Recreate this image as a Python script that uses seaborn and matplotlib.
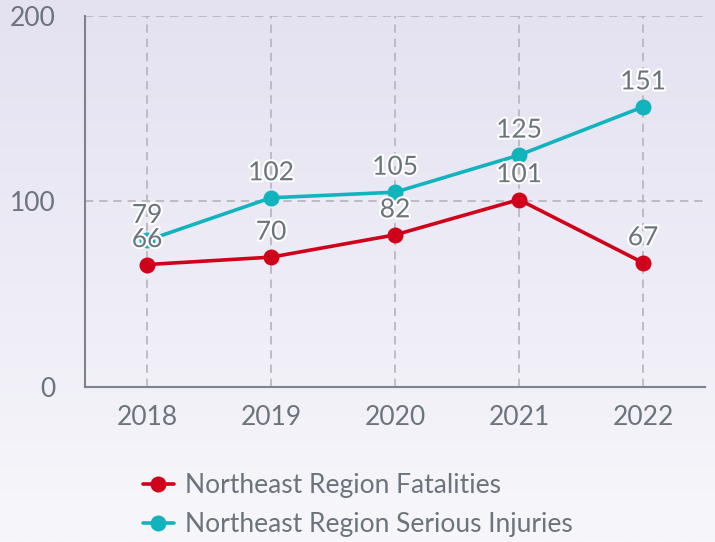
import numpy as np
import pandas as pd
import matplotlib
matplotlib.use("Agg")
import matplotlib.pyplot as plt
import matplotlib.patheffects as pe
import seaborn as sns

years = ["2018", "2019", "2020", "2021", "2022"]
fatalities = [66, 70, 82, 101, 67]
injuries = [79, 102, 105, 125, 151]
series_names = ["Northeast Region Fatalities", "Northeast Region Serious Injuries"]
colors = ["#d0021b", "#11b4bc"]
y_ticks = [0, 100, 200]

df = pd.DataFrame({
    "year": years * 2,
    "value": fatalities + injuries,
    "series": [series_names[0]] * len(years) + [series_names[1]] * len(years),
})

sns.set_style("white")
plt.rcParams["font.family"] = ["Lato", "DejaVu Sans"]

fig = plt.figure(figsize=(7.15, 5.42), dpi=100)
# gradient background
bg = fig.add_axes([0, 0, 1, 1], zorder=-10)
grad = np.linspace(0, 1, 256).reshape(-1, 1)
top = np.array([228, 225, 241]) / 255
bot = np.array([247, 247, 251]) / 255
img = top[None, None, :] * (1 - grad[:, :, None]) + bot[None, None, :] * grad[:, :, None]
bg.imshow(img, aspect="auto", extent=[0, 1, 0, 1])
bg.axis("off")

ax = fig.add_axes([0.1189, 0.286, 0.8671, 0.6845])
ax.set_facecolor("none")

sns.lineplot(data=df, x="year", y="value", hue="series", palette=colors,
             marker="o", markersize=11.5, markeredgewidth=0, linewidth=2.6,
             ax=ax, legend=True, sort=False)

ax.set_xlim(-0.5, 4.5)
ax.set_ylim(0, 200)
ax.set_yticks(y_ticks)
ax.set_xlabel("")
ax.set_ylabel("")

FS = 19
grid_col = "#b4b4bc"
ax.grid(True, color=grid_col, linestyle=(0, (5, 3.5)), linewidth=1.2)
ax.set_axisbelow(True)
for s in ["top", "right"]:
    ax.spines[s].set_visible(False)
for s in ["left", "bottom"]:
    ax.spines[s].set_color("#7c838b")
    ax.spines[s].set_linewidth(1.5)
ax.tick_params(axis="both", length=0, labelsize=FS, labelcolor="#6b747d")
ax.tick_params(axis="y", pad=21)
ax.tick_params(axis="x", pad=13)

stroke = [pe.withStroke(linewidth=3, foreground="white")]
for vals in (fatalities, injuries):
    for i, v in enumerate(vals):
        ax.annotate(str(v), (i, v), xytext=(0, 9), textcoords="offset points",
                    ha="center", va="bottom", fontsize=FS, color="#6b747d",
                    path_effects=stroke, zorder=5)

leg = ax.legend(loc="upper center", frameon=False, fontsize=FS, labelcolor="#6b747d",
                handlelength=1.2, handletextpad=0.4, labelspacing=0.55, borderaxespad=0)
leg.set_bbox_to_anchor((0.5, 0.147), transform=fig.transFigure)
for t in leg.get_texts():
    t.set_color("#6b747d")

fig.savefig("out.png", dpi=100)
